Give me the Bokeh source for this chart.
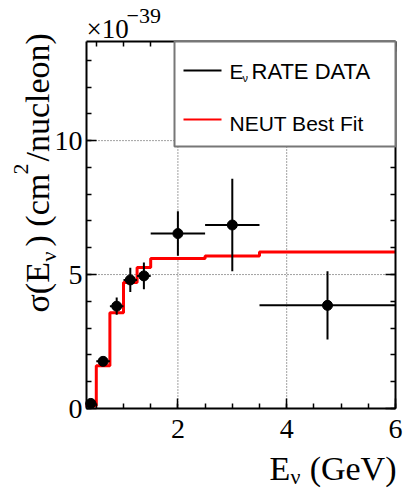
import numpy as np
from math import pi
from bokeh.plotting import figure
from bokeh.models import Range1d, FixedTicker, LinearAxis, BoxAnnotation, Label
from bokeh.embed import file_html
from bokeh.resources import INLINE

# ---------------- data ----------------
bin_low = [0.30, 0.50, 0.75, 1.00, 1.25, 1.50, 2.50, 3.50]
bin_high = [0.50, 0.75, 1.00, 1.25, 1.50, 2.50, 3.50, 6.00]
data_x = [0.40, 0.625, 0.875, 1.125, 1.375, 2.0, 3.0, 4.75]
data_y = [0.19, 1.76, 3.82, 4.80, 4.95, 6.53, 6.85, 3.85]
data_yerr = [0.08, 0.15, 0.32, 0.45, 0.50, 0.83, 1.73, 1.27]
fit_edges = [0.30, 0.50, 0.75, 1.00, 1.25, 1.50, 2.50, 3.50, 6.00]
fit_values = [0.10, 1.60, 3.57, 4.70, 5.26, 5.60, 5.69, 5.84]
x_ticks = [2, 4, 6]
x_minor = [0.5, 1.0, 1.5, 2.0, 2.5, 3.0, 3.5, 4.0, 4.5, 5.0, 5.5, 6.0]
y_ticks = [0, 5, 10]
y_minor = list(range(0, 14))

# plot-area data limits
X0, X1 = 0.32, 6.0
Y0, Y1 = 0.0, 13.7
# canvas size and plot-area position on it (pixels)
W, H = 403, 492
PL, PR, PT, PB = 86, 395, 41, 408

SX = (X1 - X0) / (PR - PL)
SY = (Y1 - Y0) / (PB - PT)


def dx(px):
    return X0 + (px - PL) * SX


def dy(py):
    return Y0 + (PB - py) * SY


p = figure(width=W, height=H,
           x_range=Range1d(dx(0), dx(W)), y_range=Range1d(dy(H), dy(0)),
           output_backend="svg", toolbar_location=None,
           min_border=0, min_border_left=0, min_border_right=0,
           min_border_top=0, min_border_bottom=0)
p.outline_line_color = None
p.background_fill_color = "white"
p.border_fill_color = "white"
p.xgrid.visible = False
p.ygrid.visible = False

xt = FixedTicker(ticks=x_ticks, minor_ticks=x_minor)
yt = FixedTicker(ticks=y_ticks, minor_ticks=y_minor)


def style_axis(ax, show_labels):
    ax.major_tick_in = 10
    ax.major_tick_out = 0
    ax.minor_tick_in = 5
    ax.minor_tick_out = 0
    ax.axis_line_color = "black"
    ax.axis_line_width = 2
    ax.major_tick_line_color = "black"
    ax.minor_tick_line_color = "black"
    ax.major_tick_line_width = 1.5
    ax.minor_tick_line_width = 1.5
    if show_labels:
        ax.major_label_text_font = "Liberation Serif"
        ax.major_label_text_font_size = "28px"
        ax.major_label_text_color = "black"
    else:
        ax.major_label_text_color = None
        ax.major_label_text_alpha = 0
        ax.major_label_text_font_size = "10px"


bx = p.xaxis[0]
bx.ticker = xt
bx.fixed_location = Y0
bx.bounds = (X0, X1)
style_axis(bx, True)
bx.major_label_standoff = 11

ly = p.yaxis[0]
ly.ticker = yt
ly.fixed_location = X0
ly.bounds = (Y0, Y1)
style_axis(ly, True)
ly.major_label_standoff = 4

top_ax = LinearAxis(ticker=xt, fixed_location=Y1, bounds=(X0, X1))
style_axis(top_ax, False)
p.add_layout(top_ax, "above")
right_ax = LinearAxis(ticker=yt, fixed_location=X1, bounds=(Y0, Y1))
style_axis(right_ax, False)
p.add_layout(right_ax, "right")

# dotted grid at the major ticks, limited to the plot area
p.segment(x0=x_ticks, x1=x_ticks, y0=[Y0] * len(x_ticks), y1=[Y1] * len(x_ticks),
          line_color="#444444", line_dash="1 2", line_width=1, level="underlay")
p.segment(x0=[X0] * len(y_ticks), x1=[X1] * len(y_ticks), y0=y_ticks, y1=y_ticks,
          line_color="#444444", line_dash="1 2", line_width=1, level="underlay")

# fit histogram
p.step(x=fit_edges, y=fit_values + [fit_values[-1]], mode="after",
       line_color="#ff0000", line_width=3)

# data with error bars
yl = [y - e for y, e in zip(data_y, data_yerr)]
yh = [y + e for y, e in zip(data_y, data_yerr)]
p.segment(x0=bin_low, x1=bin_high, y0=data_y, y1=data_y, line_color="black", line_width=2)
p.segment(x0=data_x, x1=data_x, y0=yl, y1=yh, line_color="black", line_width=2)
p.scatter(x=data_x, y=data_y, size=10, color="black", marker="circle")

# legend box
box = BoxAnnotation(left=dx(174), right=X1, top=Y1, bottom=dy(146),
                    fill_color="white", fill_alpha=1.0,
                    line_color="#777777", line_width=2, line_alpha=1.0)
p.add_layout(box)
p.line(x=[dx(183), dx(221)], y=[dy(70), dy(70)], line_color="black", line_width=2, level="overlay")
p.line(x=[dx(183), dx(221)], y=[dy(119), dy(119)], line_color="#ff0000", line_width=2, level="overlay")

BASE_SHIFT = 0.33  # label anchor -> alphabetic baseline correction (fraction of font size)


def lab(text, px, py, size, font="Liberation Serif", rotated=False, align="left"):
    if rotated:
        ax_, ay_ = px - BASE_SHIFT * size, py
        ang = pi / 2
    else:
        ax_, ay_ = px, py - BASE_SHIFT * size
        ang = 0.0
    L = Label(x=dx(ax_), y=dy(ay_), text=text, text_font=font,
              text_font_size=f"{size}px", angle=ang, text_align=align,
              text_baseline="alphabetic", text_color="black", level="overlay")
    p.add_layout(L)


# legend texts
lab("E", 229, 78, 21, font="Liberation Sans")
lab("ν", 242, 81, 11, font="Liberation Sans")
lab("RATE DATA", 251, 78, 22, font="Liberation Sans")
lab("NEUT Best Fit", 229, 130, 21, font="Liberation Sans")

# exponent title
lab("×10", 86, 37, 27)
lab("−39", 126, 23, 22)

# x axis title
lab("E", 269, 479, 34)
lab("ν", 290, 483, 22)
lab("(GeV)", 396, 479, 34, align="right")

# y axis title (rotated)
lab("σ(E", 48, 312, 34, rotated=True)
lab("ν", 55, 261, 22, rotated=True)
lab(") (cm", 48, 246, 34, rotated=True)
lab("2", 28, 174, 22, rotated=True)
lab("/nucleon)", 48, 161, 34, rotated=True)

open("out.html", "w").write(file_html(p, INLINE))
